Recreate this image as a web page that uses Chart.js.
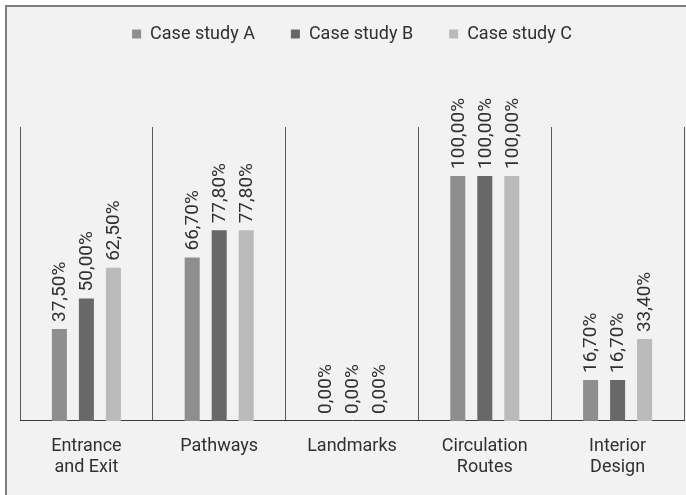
<!DOCTYPE html>
<html>
<head>
<meta charset="utf-8">
<script src="https://cdn.jsdelivr.net/npm/chart.js@4/dist/chart.umd.min.js"></script>
<style>
  html, body { margin: 0; padding: 0; background: #ffffff; }
  #wrap { position: relative; width: 686px; height: 495px; overflow: hidden; }
  #frame {
    position: absolute; left: 5px; top: 5px; right: -4px; bottom: -4px;
    background: #f2f2f2;
    border-left: 2px solid #7d7d7d;
    border-top: 2px solid #7d7d7d;
  }
  #chart { position: absolute; left: 0; top: 0; }
</style>
</head>
<body>
<div id="wrap">
  <div id="frame"></div>
  <canvas id="chart" width="686" height="495"></canvas>
</div>
<script>
// Categories (multi-line labels) and the share reported by each case study, in percent
const categories = [
  ['Entrance', 'and Exit'],
  'Pathways',
  'Landmarks',
  ['Circulation', 'Routes'],
  ['Interior', 'Design']
];
const seriesNames = ['Case study A', 'Case study B', 'Case study C'];
const caseStudyA = [37.5, 66.7, 0, 100, 16.7];
const caseStudyB = [50.0, 77.8, 0, 100, 16.7];
const caseStudyC = [62.5, 77.8, 0, 100, 33.4];
const seriesColors = ['#8e8e8e', '#686868', '#bababa'];

const FONT = 'Roboto, "Liberation Sans", sans-serif';
const TEXT_COLOR = '#303030';

// Percent with a decimal comma, e.g. 37,50%
function formatPercent(v) {
  return v.toFixed(2).replace('.', ',') + '%';
}

// Rotated value labels standing on top of each bar
const barValueLabels = {
  id: 'barValueLabels',
  afterDatasetsDraw(chart) {
    const ctx = chart.ctx;
    ctx.save();
    ctx.font = '19px ' + FONT;
    ctx.fillStyle = TEXT_COLOR;
    ctx.textAlign = 'left';
    ctx.textBaseline = 'middle';
    chart.data.datasets.forEach((ds, di) => {
      const meta = chart.getDatasetMeta(di);
      meta.data.forEach((bar, i) => {
        ctx.save();
        ctx.translate(bar.x + 1, bar.y - 7);
        ctx.rotate(-Math.PI / 2);
        ctx.fillText(formatPercent(ds.data[i]), 0, 0);
        ctx.restore();
      });
    });
    ctx.restore();
  }
};

// Extra room between the legend row and the plot area
const legendGap = {
  id: 'legendGap',
  beforeInit(chart) {
    const fit = chart.legend.fit;
    chart.legend.fit = function () {
      fit.call(this);
      this.height += 74;
    };
  }
};

new Chart(document.getElementById('chart'), {
  type: 'bar',
  data: {
    labels: categories,
    datasets: [
      { label: seriesNames[0], data: caseStudyA, backgroundColor: seriesColors[0] },
      { label: seriesNames[1], data: caseStudyB, backgroundColor: seriesColors[1] },
      { label: seriesNames[2], data: caseStudyC, backgroundColor: seriesColors[2] }
    ]
  },
  options: {
    responsive: false,
    animation: false,
    events: [],
    layout: { padding: { top: -11, left: 20, right: 2, bottom: 2 } },
    datasets: {
      bar: { categoryPercentage: 0.61, barPercentage: 0.556 }
    },
    plugins: {
      legend: {
        position: 'top',
        labels: {
          boxWidth: 9,
          boxHeight: 9,
          padding: 36,
          color: TEXT_COLOR,
          font: { family: FONT, size: 18 }
        }
      },
      tooltip: { enabled: false }
    },
    scales: {
      x: {
        grid: { display: true, color: '#5a5a5a', lineWidth: 1, drawTicks: false, offset: true },
        border: { display: true, color: '#3a3a3a', width: 1 },
        ticks: {
          color: TEXT_COLOR,
          padding: 15,
          maxRotation: 0,
          font: { family: FONT, size: 18, lineHeight: 1.17 }
        }
      },
      y: {
        display: false,
        min: 0,
        max: 120
      }
    }
  },
  plugins: [barValueLabels, legendGap]
});
</script>
</body>
</html>
